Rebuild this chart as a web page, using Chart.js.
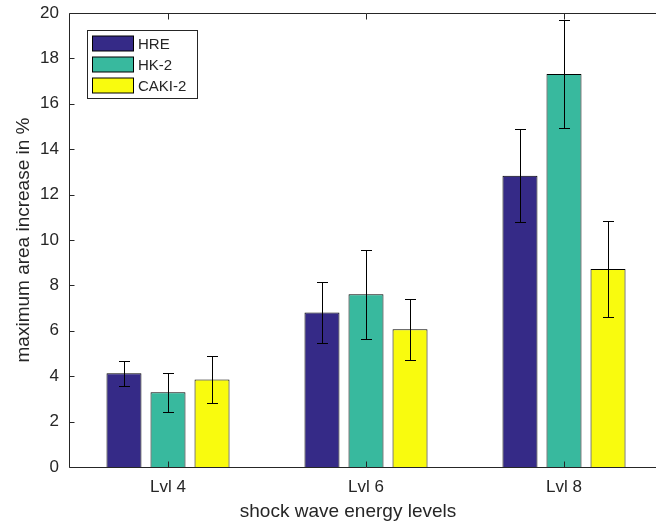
<!DOCTYPE html>
<html>
<head>
<meta charset="utf-8">
<script src="https://cdn.jsdelivr.net/npm/chart.js@4"></script>
<style>
  html, body { margin: 0; padding: 0; background: #fff; overflow: hidden; }
  .wrap { position: absolute; left: 0; top: 0; width: 656px; height: 527px; overflow: hidden; }
</style>
</head>
<body>
<div class="wrap"><canvas id="myChart" width="680" height="527"></canvas></div>
<script>
const categories = ['Lvl 4', 'Lvl 6', 'Lvl 8'];
const seriesNames = ['HRE', 'HK-2', 'CAKI-2'];
const hre = [4.13, 6.81, 12.83];
const hreErr = [0.55, 1.36, 2.05];
const hk2 = [3.29, 7.61, 17.31];
const hk2Err = [0.86, 1.95, 2.36];
const caki = [3.86, 6.07, 8.72];
const cakiErr = [1.02, 1.34, 2.10];
const yTicks = [0, 2, 4, 6, 8, 10, 12, 14, 16, 18, 20];

const FONT = "'Liberation Sans', Arial, sans-serif";
const INK = '#262626';
const colors = ['#352a87', '#38b99e', '#f9fb0e'];

// error bars, drawn through the y scale
const errorBars = {
  id: 'errorBars',
  afterDatasetsDraw(chart) {
    const ctx = chart.ctx;
    const y = chart.scales.y;
    ctx.save();
    ctx.strokeStyle = '#000';
    ctx.lineWidth = 1;
    chart.data.datasets.forEach((ds, i) => {
      const meta = chart.getDatasetMeta(i);
      meta.data.forEach((bar, j) => {
        const x = Math.round(bar.x) + 0.5;
        const top = Math.round(y.getPixelForValue(ds.data[j] + ds.errors[j])) + 0.5;
        const bot = Math.round(y.getPixelForValue(ds.data[j] - ds.errors[j])) + 0.5;
        ctx.beginPath();
        ctx.moveTo(x, top); ctx.lineTo(x, bot);
        ctx.moveTo(x - 5.5, top); ctx.lineTo(x + 5.5, top);
        ctx.moveTo(x - 5.5, bot); ctx.lineTo(x + 5.5, bot);
        ctx.stroke();
      });
    });
    ctx.restore();
  }
};

// matlab style box, inward ticks, axis titles, legend
const frame = {
  id: 'frame',
  afterDraw(chart) {
    const ctx = chart.ctx;
    const a = chart.chartArea;
    const xs = chart.scales.x;
    const ys = chart.scales.y;
    const L = Math.round(a.left) + 0.5, R = Math.round(a.right) + 0.5;
    const T = Math.round(a.top) + 0.5, B = Math.round(a.bottom) + 0.5;
    ctx.save();
    ctx.strokeStyle = INK;
    ctx.lineWidth = 1;
    ctx.beginPath();
    ctx.rect(L, T, R - L, B - T);
    yTicks.forEach(v => {
      const py = Math.round(ys.getPixelForValue(v)) + 0.5;
      ctx.moveTo(L, py); ctx.lineTo(L + 5, py);
      ctx.moveTo(R, py); ctx.lineTo(R - 5, py);
    });
    categories.forEach((c, i) => {
      const px = Math.round(xs.getPixelForValue(i)) + 0.5;
      ctx.moveTo(px, B); ctx.lineTo(px, B - 6);
      ctx.moveTo(px, T); ctx.lineTo(px, T + 6);
    });
    ctx.stroke();

    // axis titles
    ctx.fillStyle = INK;
    ctx.font = '19px ' + FONT;
    ctx.textAlign = 'center';
    ctx.textBaseline = 'middle';
    ctx.fillText('shock wave energy levels', 348, 512);
    ctx.save();
    ctx.translate(24, (a.top + a.bottom) / 2);
    ctx.rotate(-Math.PI / 2);
    ctx.fillText('maximum area increase in %', 0, 0);
    ctx.restore();

    // legend box
    ctx.fillStyle = '#fff';
    ctx.fillRect(87.5, 30.5, 110, 68);
    ctx.strokeStyle = INK;
    ctx.strokeRect(87.5, 30.5, 110, 68);
    ctx.font = '15px ' + FONT;
    ctx.textAlign = 'left';
    chart.data.datasets.forEach((ds, i) => {
      const cy = 43.5 + i * 21;
      ctx.fillStyle = ds.backgroundColor;
      ctx.fillRect(92.5, cy - 7.5, 41, 15);
      ctx.strokeStyle = '#000';
      ctx.strokeRect(92.5, cy - 7.5, 41, 15);
      ctx.fillStyle = INK;
      ctx.fillText(ds.label, 138, cy + 1);
    });
    ctx.restore();
  }
};

const ctx = document.getElementById('myChart').getContext('2d');
new Chart(ctx, {
  type: 'bar',
  data: {
    labels: categories,
    datasets: [
      { label: seriesNames[0], data: hre, errors: hreErr, backgroundColor: colors[0] },
      { label: seriesNames[1], data: hk2, errors: hk2Err, backgroundColor: colors[1] },
      { label: seriesNames[2], data: caki, errors: cakiErr, backgroundColor: colors[2] },
    ].map(d => Object.assign(d, {
      borderColor: '#000',
      borderWidth: 1,
      categoryPercentage: 0.667,
      barPercentage: 0.795,
    })),
  },
  options: {
    responsive: false,
    animation: false,
    devicePixelRatio: 1,
    layout: { padding: { top: 13, right: 17, left: 0, bottom: 0 } },
    plugins: {
      legend: { display: false },
      tooltip: { enabled: false },
    },
    scales: {
      x: {
        grid: { display: false, drawTicks: false },
        border: { display: false },
        ticks: { color: INK, font: { family: FONT, size: 17 }, padding: 10, maxRotation: 0 },
        afterFit(scale) {
          scale.height = 60;
          scale.paddingLeft = 0;
          scale.paddingRight = 0;
        },
      },
      y: {
        min: 0,
        max: 20,
        grid: { display: false, drawTicks: false },
        border: { display: false },
        ticks: { stepSize: 2, color: INK, font: { family: FONT, size: 17 }, padding: 10 },
        afterFit(scale) {
          scale.width = 69;
          scale.paddingTop = 0;
          scale.paddingBottom = 0;
        },
      },
    },
  },
  plugins: [errorBars, frame],
});
</script>
</body>
</html>
